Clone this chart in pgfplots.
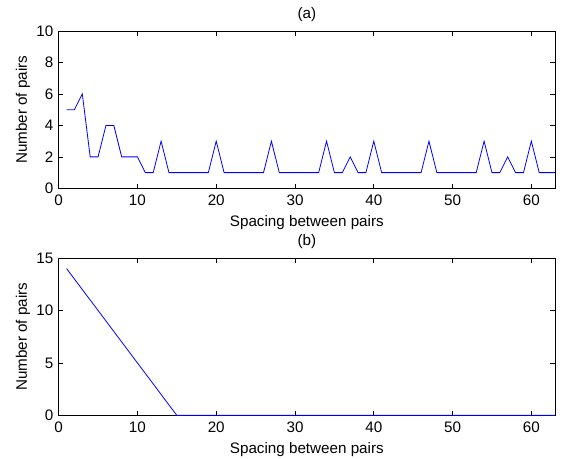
\documentclass[border=0pt]{standalone}
\usepackage{fontspec}
\setmainfont{Liberation Sans}
\usepackage{pgfplots}
\pgfplotsset{compat=1.18}
\begin{document}
\fontsize{11.4}{13}\selectfont
\begin{tikzpicture}
\pgfplotsset{
  mystyle/.style={
    scale only axis,
    width=372.2pt, height=118pt,
    xmin=0, xmax=63,
    xtick={0,10,...,60},
    tick align=inside,
    xtick pos=both, ytick pos=both,
    major tick length=3.5pt,
    axis line style={line width=0.6pt},
    every tick/.style={line width=0.5pt, black},
    /pgf/number format/assume math mode=true,
    ticklabel style={font=\fontsize{11.4}{13}\selectfont},
    xticklabel style={yshift=-1.2pt},
    label style={font=\fontsize{11.4}{13}\selectfont},
    title style={font=\fontsize{11.4}{13}\selectfont, yshift=-3pt},
    xlabel={Spacing between pairs},
    ylabel={Number of pairs},
    xlabel style={yshift=0.5pt},
    ylabel style={yshift=-3pt},
  }
}
\begin{axis}[mystyle, at={(0,0)}, anchor=north west,
  ymin=0, ymax=10, ytick={0,2,...,10}, title={(a)}]
\addplot[blue, line width=0.6pt] coordinates {
(1,5)(2,5)(3,6)(4,2)(5,2)(6,4)(7,4)(8,2)(9,2)(10,2)
(11,1)(12,1)(13,3)(14,1)(15,1)(16,1)(17,1)(18,1)(19,1)(20,3)
(21,1)(22,1)(23,1)(24,1)(25,1)(26,1)(27,3)(28,1)(29,1)(30,1)
(31,1)(32,1)(33,1)(34,3)(35,1)(36,1)(37,2)(38,1)(39,1)(40,3)
(41,1)(42,1)(43,1)(44,1)(45,1)(46,1)(47,3)(48,1)(49,1)(50,1)
(51,1)(52,1)(53,1)(54,3)(55,1)(56,1)(57,2)(58,1)(59,1)(60,3)
(61,1)(62,1)(63,1)
};
\end{axis}
\begin{axis}[mystyle, at={(0,-170.25pt)}, anchor=north west,
  ymin=0, ymax=15, ytick={0,5,10,15}, title={(b)}]
\addplot[blue, line width=0.6pt] coordinates {
(1,14)(2,13)(3,12)(4,11)(5,10)(6,9)(7,8)(8,7)(9,6)(10,5)
(11,4)(12,3)(13,2)(14,1)(15,0)(16,0)(20,0)(30,0)(40,0)(50,0)(60,0)(63,0)
};
\end{axis}
\pgfresetboundingbox
\path[use as bounding box] (-44pt,23.25pt) rectangle (379.7pt,-320.25pt);
\end{tikzpicture}
\end{document}
